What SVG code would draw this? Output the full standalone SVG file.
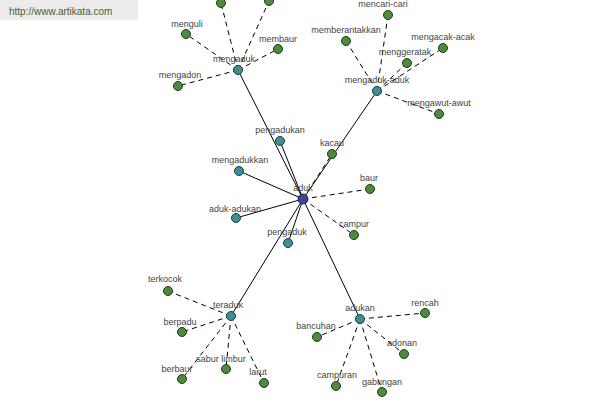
<svg xmlns="http://www.w3.org/2000/svg" width="600" height="400" viewBox="0 0 600 400">
<style>
.bg{fill:#ffffff}
.s{stroke:#000;stroke-width:1;fill:none}
.d{stroke:#000;stroke-width:1;fill:none;stroke-dasharray:5,4}
.g{fill:#4e8a3e;stroke:#1e3a1a;stroke-width:1}
.t{fill:#3f8e93;stroke:#1d3c40;stroke-width:1}
.b{fill:#3b4796;stroke:#1a2050;stroke-width:1}
text{font-family:"Liberation Sans",Arial,sans-serif;font-size:9px;fill:#444;text-anchor:middle}
.url{font-size:10px;fill:#4a5a38;text-anchor:start}
</style>
<rect class="bg" width="600" height="400"/>
<g id="watermark">
<rect x="0" y="0" width="138" height="20" fill="#ececec"/>
<text class="url" x="9" y="15">http://www.artikata.com</text>
</g>
<g id="connectors">
<line class="s" x1="303" y1="199" x2="238" y2="70"/>
<line class="s" x1="303" y1="199" x2="377" y2="91"/>
<line class="s" x1="303" y1="199" x2="231" y2="316"/>
<line class="s" x1="303" y1="199" x2="360" y2="319"/>
<line class="s" x1="303" y1="199" x2="280" y2="141"/>
<line class="s" x1="303" y1="199" x2="239" y2="171"/>
<line class="s" x1="303" y1="199" x2="236" y2="218"/>
<line class="s" x1="303" y1="199" x2="288" y2="243"/>
<line class="d" x1="303" y1="199" x2="332" y2="154"/>
<line class="d" x1="303" y1="199" x2="370" y2="189"/>
<line class="d" x1="303" y1="199" x2="354" y2="235"/>
<line class="d" x1="238" y1="70" x2="186" y2="34"/>
<line class="d" x1="238" y1="70" x2="278" y2="49"/>
<line class="d" x1="238" y1="70" x2="178" y2="86"/>
<line class="d" x1="238" y1="70" x2="221" y2="3"/>
<line class="d" x1="238" y1="70" x2="269" y2="1"/>
<line class="d" x1="377" y1="91" x2="388" y2="15"/>
<line class="d" x1="377" y1="91" x2="346" y2="41"/>
<line class="d" x1="377" y1="91" x2="443" y2="48"/>
<line class="d" x1="377" y1="91" x2="407" y2="63"/>
<line class="d" x1="377" y1="91" x2="439" y2="114"/>
<line class="d" x1="231" y1="316" x2="168" y2="291"/>
<line class="d" x1="231" y1="316" x2="182" y2="332"/>
<line class="d" x1="231" y1="316" x2="226" y2="369"/>
<line class="d" x1="231" y1="316" x2="182" y2="379"/>
<line class="d" x1="231" y1="316" x2="264" y2="383"/>
<line class="d" x1="360" y1="319" x2="425" y2="313"/>
<line class="d" x1="360" y1="319" x2="317" y2="337"/>
<line class="d" x1="360" y1="319" x2="404" y2="354"/>
<line class="d" x1="360" y1="319" x2="336" y2="386"/>
<line class="d" x1="360" y1="319" x2="382" y2="392"/>
</g>
<g id="n-top1"><circle class="g" cx="221" cy="3" r="4.5"/></g>
<g id="n-top2"><circle class="g" cx="269" cy="1" r="4.5"/></g>
<g id="n-menguli"><circle class="g" cx="186" cy="34" r="4.5"/><text x="187" y="27">menguli</text></g>
<g id="n-membaur"><circle class="g" cx="278" cy="49" r="4.5"/><text x="278" y="42">membaur</text></g>
<g id="n-mengadon"><circle class="g" cx="178" cy="86" r="4.5"/><text x="180" y="78">mengadon</text></g>
<g id="n-mengaduk"><circle class="t" cx="238" cy="70" r="4.5"/><text x="234" y="62">mengaduk</text></g>
<g id="n-mencari-cari"><circle class="g" cx="388" cy="15" r="4.5"/><text x="383" y="7">mencari-cari</text></g>
<g id="n-memberantakkan"><circle class="g" cx="346" cy="41" r="4.5"/><text x="346" y="33">memberantakkan</text></g>
<g id="n-mengacak-acak"><circle class="g" cx="443" cy="48" r="4.5"/><text x="443" y="40">mengacak-acak</text></g>
<g id="n-menggeratak"><circle class="g" cx="407" cy="63" r="4.5"/><text x="405" y="55">menggeratak</text></g>
<g id="n-mengaduk-aduk"><circle class="t" cx="377" cy="91" r="4.5"/><text x="377" y="83">mengaduk-aduk</text></g>
<g id="n-mengawut-awut"><circle class="g" cx="439" cy="114" r="4.5"/><text x="439" y="106">mengawut-awut</text></g>
<g id="n-pengadukan"><circle class="t" cx="280" cy="141" r="4.5"/><text x="280" y="133">pengadukan</text></g>
<g id="n-mengadukkan"><circle class="t" cx="239" cy="171" r="4.5"/><text x="240" y="163">mengadukkan</text></g>
<g id="n-kacau"><circle class="g" cx="332" cy="154" r="4.5"/><text x="332" y="146">kacau</text></g>
<g id="n-baur"><circle class="g" cx="370" cy="189" r="4.5"/><text x="369" y="181">baur</text></g>
<g id="n-aduk-adukan"><circle class="t" cx="236" cy="218" r="4.5"/><text x="235" y="212">aduk-adukan</text></g>
<g id="n-pengaduk"><circle class="t" cx="288" cy="243" r="4.5"/><text x="287" y="235">pengaduk</text></g>
<g id="n-campur"><circle class="g" cx="354" cy="235" r="4.5"/><text x="354" y="227">campur</text></g>
<g id="n-aduk"><circle class="b" cx="303" cy="199" r="5"/><text x="303" y="191">aduk</text></g>
<g id="n-terkocok"><circle class="g" cx="168" cy="291" r="4.5"/><text x="165" y="282">terkocok</text></g>
<g id="n-teraduk"><circle class="t" cx="231" cy="316" r="4.5"/><text x="228" y="308">teraduk</text></g>
<g id="n-berpadu"><circle class="g" cx="182" cy="332" r="4.5"/><text x="180" y="325">berpadu</text></g>
<g id="n-sabur-limbur"><circle class="g" cx="226" cy="369" r="4.5"/><text x="221" y="362">sabur limbur</text></g>
<g id="n-berbaur"><circle class="g" cx="182" cy="379" r="4.5"/><text x="177" y="372">berbaur</text></g>
<g id="n-larut"><circle class="g" cx="264" cy="383" r="4.5"/><text x="258" y="375">larut</text></g>
<g id="n-adukan"><circle class="t" cx="360" cy="319" r="4.5"/><text x="360" y="311">adukan</text></g>
<g id="n-rencah"><circle class="g" cx="425" cy="313" r="4.5"/><text x="425" y="306">rencah</text></g>
<g id="n-bancuhan"><circle class="g" cx="317" cy="337" r="4.5"/><text x="316" y="329">bancuhan</text></g>
<g id="n-adonan"><circle class="g" cx="404" cy="354" r="4.5"/><text x="402" y="346">adonan</text></g>
<g id="n-campuran"><circle class="g" cx="336" cy="386" r="4.5"/><text x="337" y="378">campuran</text></g>
<g id="n-gabungan"><circle class="g" cx="382" cy="392" r="4.5"/><text x="382" y="385">gabungan</text></g>
</svg>
